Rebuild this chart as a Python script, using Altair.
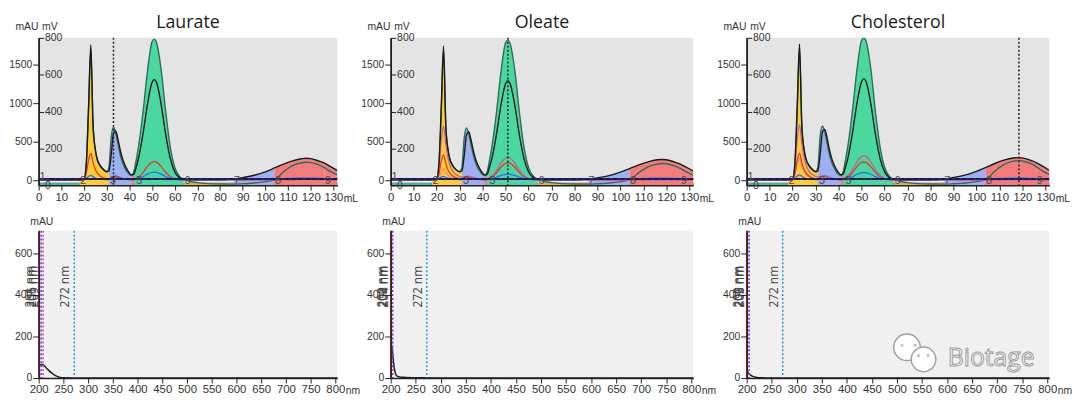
import altair as alt
import pandas as pd

PANELS = ["Laurate", "Oleate", "Cholesterol"]

# ---------------- chromatogram data (mL grid, values in mAU) ----------------
ML = [0, 10, 18, 20, 21, 22, 23, 24, 25, 26, 27, 28, 30, 31, 32, 33, 34, 35, 36, 37,
      38, 40, 41, 42, 43, 44, 46, 48, 50, 51, 52, 54, 56, 58, 60, 62, 64, 70, 80, 86,
      90, 95, 100, 104, 108, 112, 116, 118, 120, 124, 126, 128, 131.7]

UV1 = {
    "Laurate": [5, 5, 5, 15, 220, 950, 1760, 720, 400, 260, 200, 160, 110, 120, 330, 610, 640, 530, 390, 280,
                200, 95, 70, 80, 170, 280, 600, 990, 1270, 1310, 1270, 990, 600, 290, 110, 35, 12, 5, 5, 15,
                35, 65, 110, 160, 210, 252, 280, 286, 282, 245, 222, 190, 125],
    "Oleate": [5, 5, 5, 15, 210, 940, 1744, 710, 390, 255, 195, 155, 110, 120, 320, 590, 628, 520, 380, 270,
               195, 95, 70, 80, 170, 275, 590, 980, 1255, 1295, 1255, 980, 590, 285, 110, 35, 12, 5, 5, 15,
               32, 60, 105, 152, 200, 240, 266, 270, 266, 232, 210, 180, 120],
    "Cholesterol": [5, 5, 5, 15, 225, 960, 1770, 725, 400, 262, 200, 160, 110, 125, 340, 630, 662, 550, 400, 285,
                    205, 98, 72, 82, 172, 282, 605, 1000, 1280, 1320, 1280, 1000, 605, 292, 112, 36, 12, 5, 5, 15,
                    36, 68, 115, 165, 218, 262, 290, 295, 291, 254, 230, 196, 130],
}
UV2 = {
    "Laurate": [5, 5, 5, 15, 200, 900, 1700, 700, 390, 250, 190, 150, 115, 170, 560, 690, 610, 470, 330, 230,
                160, 75, 60, 110, 260, 430, 880, 1420, 1800, 1833, 1790, 1440, 900, 440, 170, 55, 12, -30, -48, -50,
                -45, -35, -18, 5, 110, 190, 228, 235, 230, 195, 165, 125, 70],
    "Oleate": [5, 5, 5, 15, 190, 890, 1690, 690, 380, 245, 185, 145, 115, 165, 550, 680, 600, 460, 325, 225,
               158, 75, 60, 110, 255, 425, 870, 1410, 1785, 1820, 1775, 1430, 890, 435, 168, 55, 12, -30, -48, -50,
               -45, -35, -18, 5, 100, 175, 212, 218, 214, 182, 155, 118, 65],
    "Cholesterol": [5, 5, 5, 15, 205, 910, 1710, 705, 392, 252, 192, 152, 116, 175, 580, 705, 625, 480, 338, 235,
                    163, 76, 60, 112, 262, 435, 890, 1435, 1815, 1850, 1805, 1455, 905, 445, 172, 56, 12, -30, -48, -50,
                    -45, -35, -18, 5, 118, 202, 248, 256, 251, 212, 178, 135, 78],
}
RED = {
    "Laurate": [5, 5, 5, 8, 90, 260, 350, 230, 140, 90, 60, 40, 22, 18, 35, 48, 48, 40, 30, 20,
                14, 8, 6, 10, 25, 40, 100, 180, 235, 243, 235, 180, 105, 50, 20, 8, 5, 5, 5, 5,
                5, 5, 5, 5, 8, 10, 12, 12, 12, 10, 8, 6, 5],
    "Oleate": [5, 5, 5, 8, 85, 245, 330, 215, 130, 85, 55, 38, 22, 18, 30, 42, 42, 35, 26, 18,
               12, 8, 6, 10, 24, 38, 95, 170, 222, 230, 222, 170, 100, 48, 20, 8, 5, 5, 5, 5,
               5, 5, 5, 5, 8, 10, 12, 12, 12, 10, 8, 6, 5],
    "Cholesterol": [5, 5, 5, 8, 90, 260, 350, 230, 140, 90, 60, 40, 22, 18, 35, 50, 52, 42, 30, 20,
                    14, 8, 6, 10, 25, 40, 98, 178, 232, 240, 232, 178, 104, 50, 20, 8, 5, 5, 5, 5,
                    5, 5, 5, 5, 8, 10, 12, 12, 12, 10, 8, 6, 5],
}
BLUE = {
    "Laurate": [8, 8, 8, 10, 25, 50, 64, 48, 30, 20, 15, 12, 10, 10, 30, 55, 58, 48, 35, 22,
                15, 10, 8, 10, 15, 22, 45, 80, 102, 106, 102, 80, 48, 25, 12, 8, 8, 8, 8, 8,
                10, 12, 15, 18, 22, 25, 28, 28, 28, 25, 22, 20, 18],
    "Oleate": [8, 8, 8, 10, 22, 42, 50, 38, 25, 18, 14, 12, 10, 10, 25, 45, 48, 40, 30, 20,
               14, 10, 8, 10, 14, 20, 38, 64, 78, 80, 78, 64, 40, 22, 12, 8, 8, 8, 8, 8,
               10, 12, 15, 18, 22, 25, 28, 28, 28, 25, 22, 20, 18],
    "Cholesterol": [8, 8, 8, 10, 28, 55, 70, 52, 32, 22, 16, 12, 10, 10, 30, 55, 58, 48, 35, 22,
                    15, 10, 8, 10, 15, 22, 44, 78, 97, 100, 97, 78, 47, 25, 12, 8, 8, 8, 8, 8,
                    10, 12, 15, 18, 22, 25, 28, 28, 28, 25, 22, 20, 18],
}
PINK = {
    "Oleate": [5, 5, 5, 10, 170, 520, 700, 460, 280, 180, 120, 85, 50, 40, 45, 55, 55, 45, 35, 25,
               18, 10, 8, 15, 35, 55, 125, 225, 290, 300, 290, 225, 130, 62, 25, 10, 6, 5, 5, 5,
               5, 5, 5, 5, 5, 5, 5, 5, 5, 5, 5, 5, 5],
    "Cholesterol": [5, 5, 5, 10, 175, 535, 720, 475, 290, 185, 125, 88, 52, 42, 48, 58, 60, 50, 38, 27,
                    18, 10, 8, 16, 38, 60, 135, 240, 310, 320, 310, 240, 140, 66, 26, 10, 6, 5, 5, 5,
                    5, 5, 5, 5, 5, 5, 5, 5, 5, 5, 5, 5, 5],
}
ROSE = {
    "Oleate": [5, 5, 5, 8, 40, 110, 150, 100, 60, 40, 28, 20, 12, 10, 10, 10, 10, 10, 10, 10,
               10, 8, 8, 8, 8, 8, 8, 8, 8, 8, 8, 8, 8, 8, 8, 8, 8, 5, 5, 5,
               5, 5, 5, 5, 5, 5, 5, 5, 5, 5, 5, 5, 5],
    "Cholesterol": [5, 5, 5, 8, 70, 205, 280, 185, 110, 72, 50, 35, 18, 12, 10, 10, 10, 10, 10, 10,
                    10, 8, 8, 8, 8, 8, 8, 8, 8, 8, 8, 8, 8, 8, 8, 8, 8, 5, 5, 5,
                    5, 5, 5, 5, 5, 5, 5, 5, 5, 5, 5, 5, 5],
}
MARKER_ML = {"Laurate": 33, "Oleate": 51, "Cholesterol": 118.5}
BASELINE_MAU = 17

FRAC_ID = ["1", "2", "3", "4", "5", "6", "7", "8", "9"]
FRAC_START = [0, 18, 31, 41, 42, 64, 86, 104, 126]
FRAC_END = [18, 31, 41, 42, 64, 86, 104, 126, 131.7]
FRAC_COLOR = ["#46cf98", "#ffcc36", "#9fb0f2", "#f27c7c", "#4ad8a0", "#ffcc36", "#9fb0f2", "#f27c7c", "#f27c7c"]
PEAK_FRACS = ["2", "3", "4", "5", "7", "8", "9"]

LBL_TEXT = ["1", "2", "3", "5", "6", "7", "8", "9"]
LBL_ML = [0.4, 18.2, 31.5, 43.0, 64.3, 86.0, 104.2, 126.2]
LBL_MAU = [42, -15, -15, -15, -15, -15, -15, -15]

# ---------------- spectrum data (nm, mAU) ----------------
NM = {
    "Laurate": [200, 202, 205, 208, 211, 215, 220, 225, 230, 235, 240, 245, 250, 300, 400, 500, 600, 700, 800, 804],
    "Oleate": [200, 201, 203, 205, 207, 210, 213, 216, 220, 230, 242, 260, 300, 800, 804],
    "Cholesterol": [200, 202, 204, 207, 211, 216, 221, 230, 250, 800, 804],
}
ABS = {
    "Laurate": [55, 62, 65, 64, 60, 50, 38, 27, 18, 10, 5, 2, 1, 0.5, 0.5, 0.5, 0.5, 0.5, 0.5, 0.5],
    "Oleate": [190, 170, 140, 95, 50, 18, 9, 6, 4, 3, 2, 1, 0.5, 0.5, 0.5],
    "Cholesterol": [36, 30, 22, 15, 9, 5, 3, 1.5, 0.5, 0.5, 0.5],
}
WL_NM = {"Laurate": [201, 205, 209, 272], "Oleate": [200.5, 202, 204, 272], "Cholesterol": [200.5, 202, 205, 272]}
WL_KIND = {"Laurate": ["red", "blue", "magenta", "cyan"], "Oleate": ["red", "magenta", "blue", "cyan"],
           "Cholesterol": ["red", "magenta", "blue", "cyan"]}
WL_TEXT = {"Laurate": ["201 nm", "205 nm", "209 nm", "272 nm"], "Oleate": ["200 nm", "202 nm", "204 nm", "272 nm"],
           "Cholesterol": ["200 nm", "202 nm", "205 nm", "272 nm"]}
WL_LABEL_MAU = 440
WL_COLORS = {"red": "#e8202a", "magenta": "#d040c8", "blue": "#3050e8", "cyan": "#2a98d0"}

WM_TEXT = ["Biotage"]
WM_NM = [688]
WM_MAU = [58]
BUB_NM = [520, 553]
BUB_MAU = [148, 90]
BUB_SIZE = [720, 620]
EYE_NM = [510, 536, 543, 562]
EYE_MAU = [158, 158, 108, 108]

# ---------------- styling ----------------
WIDTHS = {"Laurate": 302, "Oleate": 306, "Cholesterol": 306}
H = 149
FONT = "Liberation Sans"
REG = "Open Sans"
AX = dict(labelFont=FONT, labelFontSize=10.5, labelColor="#333333", labelPadding=1, format="d",
          tickColor="#222222", tickSize=5, tickWidth=1, domainColor="#222222", domainWidth=1.5,
          grid=False, titleFont=FONT, titleFontSize=10.5, titleColor="#333333", titleFontWeight="normal",
          titleAngle=0, titleAlign="left", titleBaseline="alphabetic", labelFlush=False,
          labelOverlap=False, zindex=1)


def axis(**kw):
    d = dict(AX)
    d.update(kw)
    return alt.Axis(**d)


CSCALE = alt.Scale(domain=FRAC_ID, range=FRAC_COLOR)


def make_top(name):
    W = WIDTHS[name]
    xs = alt.Scale(domain=[0, 131.7], nice=False, zero=False)
    ys = alt.Scale(domain=[-64, 1850], nice=False, zero=False)
    x_ax = axis(values=list(range(0, 131, 10)), title="mL", titleX=W + 6, titleY=16, labelFontSize=11.5)
    y_ax = axis(values=[0, 500, 1000, 1500], title="mAU", titleX=-24, titleY=-8, tickSize=6)

    def X(f):
        return alt.X(f, scale=xs, axis=x_ax)

    def Y(f):
        return alt.Y(f, scale=ys, axis=y_ax)

    band = alt.Chart(pd.DataFrame({"start": [0], "end": [131.7], "lo": [-35], "hi": [12]})).mark_rect(
        color="#eef0fa").encode(x=X("start:Q"), x2="end:Q", y=Y("lo:Q"), y2="hi:Q")

    strips = alt.Chart(pd.DataFrame({"frac": FRAC_ID, "start": FRAC_START, "end": FRAC_END,
                                     "lo": [-64] * len(FRAC_ID), "hi": [-35] * len(FRAC_ID)})).mark_rect(
        stroke="#5b6272", strokeWidth=0.6).encode(
        x=X("start:Q"), x2="end:Q", y=Y("lo:Q"), y2="hi:Q",
        color=alt.Color("frac:N", scale=CSCALE, legend=None))

    env = [max(a, b) for a, b in zip(UV1[name], UV2[name])]
    rows = []
    for f, s, e in zip(FRAC_ID, FRAC_START, FRAC_END):
        if f in PEAK_FRACS:
            for xv, v in zip(ML, env):
                if s <= xv <= e:
                    rows.append({"frac": f, "ml": xv, "v": v, "lo": -64})
    fills = alt.Chart(pd.DataFrame(rows)).mark_area(interpolate="monotone", clip=True).encode(
        x=X("ml:Q"), y=Y("v:Q"), y2="lo:Q", color=alt.Color("frac:N", scale=CSCALE, legend=None))

    def line(vals, color, width=1.3):
        return alt.Chart(pd.DataFrame({"ml": ML, "v": vals})).mark_line(
            color=color, strokeWidth=width, interpolate="monotone", clip=True).encode(x=X("ml:Q"), y=Y("v:Q"))

    lines = [line(UV2[name], "#2e6d58", 1.4), line(BLUE[name], "#2a6ff0")]
    if name in ROSE:
        lines.append(line(ROSE[name], "#ef8a8a"))
    lines.append(line(RED[name], "#e8342e"))
    if name in PINK:
        lines.append(line(PINK[name], "#c0609a"))
    lines.append(line(UV1[name], "#1a1a1a", 1.4))

    base_df = pd.DataFrame({"v": [BASELINE_MAU]})
    base1 = alt.Chart(base_df).mark_rule(color="#1c2580", strokeWidth=2.2).encode(y=Y("v:Q"))
    base2 = alt.Chart(base_df).mark_rule(color="#111111", strokeWidth=1, strokeDash=[4, 3]).encode(y=Y("v:Q"))

    labels = alt.Chart(pd.DataFrame({"ml": LBL_ML, "v": LBL_MAU, "t": LBL_TEXT})).mark_text(
        align="left", baseline="middle", font=FONT, fontSize=11, color="#4a4a4a").encode(
        x=X("ml:Q"), y=Y("v:Q"), text="t:N")

    marker = alt.Chart(pd.DataFrame({"ml": [MARKER_ML[name]]})).mark_rule(
        color="#222222", strokeWidth=1.5, strokeDash=[2, 2]).encode(x=X("ml:Q"))

    main = alt.layer(band, strips, fills, *lines, base1, base2, labels, marker)

    mv = alt.Chart(pd.DataFrame({"mv": [0, 800]})).mark_point(opacity=0).encode(
        y=alt.Y("mv:Q", scale=alt.Scale(domain=[0, 800], nice=False, zero=False),
                axis=axis(orient="right", offset=-W, values=[0, 200, 400, 600, 800], title="mV",
                          titleX=3, titleY=-8)))

    return alt.layer(main, mv).resolve_scale(y="independent").properties(
        width=W, height=H,
        title=alt.TitleParams(name, font=REG, fontSize=18, fontWeight="normal", color="#1a1a1a",
                              anchor="middle", frame="group", offset=2, dy=12.5),
        view=alt.ViewBackground(fill="#e4e4e4", strokeWidth=0))


def make_bottom(name):
    W = WIDTHS[name]
    xs = alt.Scale(domain=[200, 804], nice=False, zero=False)
    ys = alt.Scale(domain=[0, 710], nice=False, zero=False)
    x_ax = axis(values=list(range(200, 801, 50)), title="nm", titleX=W + 8, titleY=16, labelFontSize=11.5)
    y_ax = axis(values=[0, 200, 400, 600], title="mAU", titleX=-9, titleY=-6, tickSize=6)

    def X(f):
        return alt.X(f, scale=xs, axis=x_ax)

    def Y(f):
        return alt.Y(f, scale=ys, axis=y_ax)

    spec = alt.Chart(pd.DataFrame({"nm": NM[name], "a": ABS[name]})).mark_line(
        color="#222222", strokeWidth=1.5, interpolate="monotone").encode(x=X("nm:Q"), y=Y("a:Q"))

    wl = pd.DataFrame({"nm": WL_NM[name], "kind": WL_KIND[name], "t": WL_TEXT[name],
                       "a": [WL_LABEL_MAU] * len(WL_NM[name])})
    rules = []
    for kind in ["cyan", "blue", "magenta", "red"]:
        sub = wl[wl.kind == kind]
        if kind == "red":
            mk = alt.Chart(sub).mark_rule(color=WL_COLORS[kind], strokeWidth=2)
        else:
            mk = alt.Chart(sub).mark_rule(color=WL_COLORS[kind], strokeWidth=1.5, strokeDash=[2, 2])
        rules.append(mk.encode(x=X("nm:Q")))
    txt = alt.Chart(wl).mark_text(angle=270, align="center", baseline="bottom", dy=-2, font=REG,
                                  fontSize=12, color="#444444").encode(x=X("nm:Q"), y=Y("a:Q"), text="t:N")

    layers = [spec, *rules, txt]
    if name == "Cholesterol":
        bub = alt.Chart(pd.DataFrame({"nm": BUB_NM, "a": BUB_MAU, "s": BUB_SIZE})).mark_point(
            shape="circle", filled=False, fill="#ffffff", fillOpacity=0.95, stroke="#a0a0a0",
            strokeWidth=1.5).encode(x=X("nm:Q"), y=Y("a:Q"), size=alt.Size("s:Q", scale=None, legend=None))
        eyes = alt.Chart(pd.DataFrame({"nm": EYE_NM, "a": EYE_MAU})).mark_point(
            shape="circle", filled=True, color="#a8a8a8", size=10).encode(x=X("nm:Q"), y=Y("a:Q"))
        wm = alt.Chart(pd.DataFrame({"nm": WM_NM, "a": WM_MAU, "t": WM_TEXT})).mark_text(
            font=REG, fontSize=25, fill="#ffffff", stroke="#9a9a9a", strokeWidth=1, align="center",
            baseline="alphabetic").encode(x=X("nm:Q"), y=Y("a:Q"), text="t:N")
        layers += [bub, eyes, wm]

    return alt.layer(*layers).properties(
        width=W, height=H, view=alt.ViewBackground(fill="#f0f0f0", strokeWidth=0))


chart = alt.concat(*[make_top(p) for p in PANELS], *[make_bottom(p) for p in PANELS],
                   columns=3, spacing={"row": 46, "column": 54}, bounds="flush").properties(
    padding={"left": 0, "top": 4, "right": 0, "bottom": 0}, background="#ffffff"
).configure(font=FONT)

chart.save("out.html", embed_options={"renderer": "svg", "actions": False})
